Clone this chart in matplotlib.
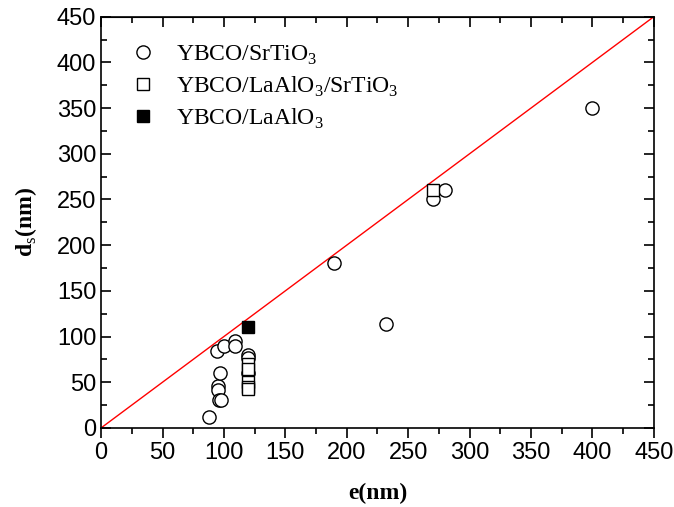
import matplotlib
matplotlib.use("Agg")
import matplotlib.pyplot as plt
from matplotlib.ticker import MultipleLocator

plt.rcParams["mathtext.fontset"] = "custom"
plt.rcParams["mathtext.rm"] = "Liberation Serif"
plt.rcParams["mathtext.bf"] = "Liberation Serif:bold"

# YBCO/SrTiO3 (open circles)
sto_e = [88, 95, 95, 96, 98, 97, 94, 100, 109, 109, 120, 120, 120, 190, 232, 270, 280, 400]
sto_d = [12, 46, 41, 31, 31, 60, 84, 90, 95, 90, 80, 76, 60, 180, 114, 250, 260, 350]

# YBCO/LaAlO3/SrTiO3 (open squares)
lao_sto_e = [120, 120, 120, 120, 120, 270]
lao_sto_d = [70, 65, 50, 45, 43, 260]

# YBCO/LaAlO3 (filled square)
lao_e = [120]
lao_d = [110]

ticks = list(range(0, 451, 50))

fig = plt.figure(figsize=(6.74, 5.07), dpi=100)
ax = fig.add_axes([0.150, 0.156, 0.820, 0.811])

ax.plot([0, 450], [0, 450], color="red", lw=1.0, zorder=1)

ax.plot(sto_e, sto_d, "o", ms=9.5, mfc="white", mec="black", mew=1.0,
        ls="none", label=r"YBCO/SrTiO$_3$", zorder=3)
ax.plot(lao_sto_e, lao_sto_d, "s", ms=8.5, mfc="white", mec="black", mew=1.0,
        ls="none", label=r"YBCO/LaAlO$_3$/SrTiO$_3$", zorder=3)
ax.plot(lao_e, lao_d, "s", ms=8.5, mfc="black", mec="black",
        ls="none", label=r"YBCO/LaAlO$_3$", zorder=4)

ax.set_xlim(0, 450)
ax.set_ylim(0, 450)
ax.set_xticks(ticks)
ax.set_yticks(ticks)
ax.xaxis.set_minor_locator(MultipleLocator(25))
ax.yaxis.set_minor_locator(MultipleLocator(25))
ax.tick_params(which="both", right=True, direction="in", width=1.2)
ax.tick_params(axis="x", which="both", bottom=True, top=False, direction="out")
ax.tick_params(which="major", length=7, labelsize=17)
ax.tick_params(which="minor", length=4)
for lab in ax.get_xticklabels() + ax.get_yticklabels():
    lab.set_family("Liberation Sans")
for s in ax.spines.values():
    s.set_linewidth(1.2)

# top spine ticks pointing in
sec = ax.secondary_xaxis("top")
sec.set_xticks(ticks)
sec.xaxis.set_minor_locator(MultipleLocator(25))
sec.tick_params(which="both", direction="in", labeltop=False, width=1.2)
sec.tick_params(which="major", length=7)
sec.tick_params(which="minor", length=4)

ax.set_xlabel("e(nm)", fontsize=17, fontweight="bold", family="Liberation Serif", labelpad=13)
ax.set_ylabel(r"d$_\mathrm{s}$(nm)", fontsize=17, fontweight="bold", family="Liberation Serif", labelpad=13)

leg = ax.legend(loc="upper left", bbox_to_anchor=(0.02, 0.975), frameon=False,
                prop={"family": "Liberation Serif", "size": 17},
                handletextpad=0.8, labelspacing=0.33, handlelength=1.2,
                borderaxespad=0.3)

fig.savefig("out.png", dpi=100)
